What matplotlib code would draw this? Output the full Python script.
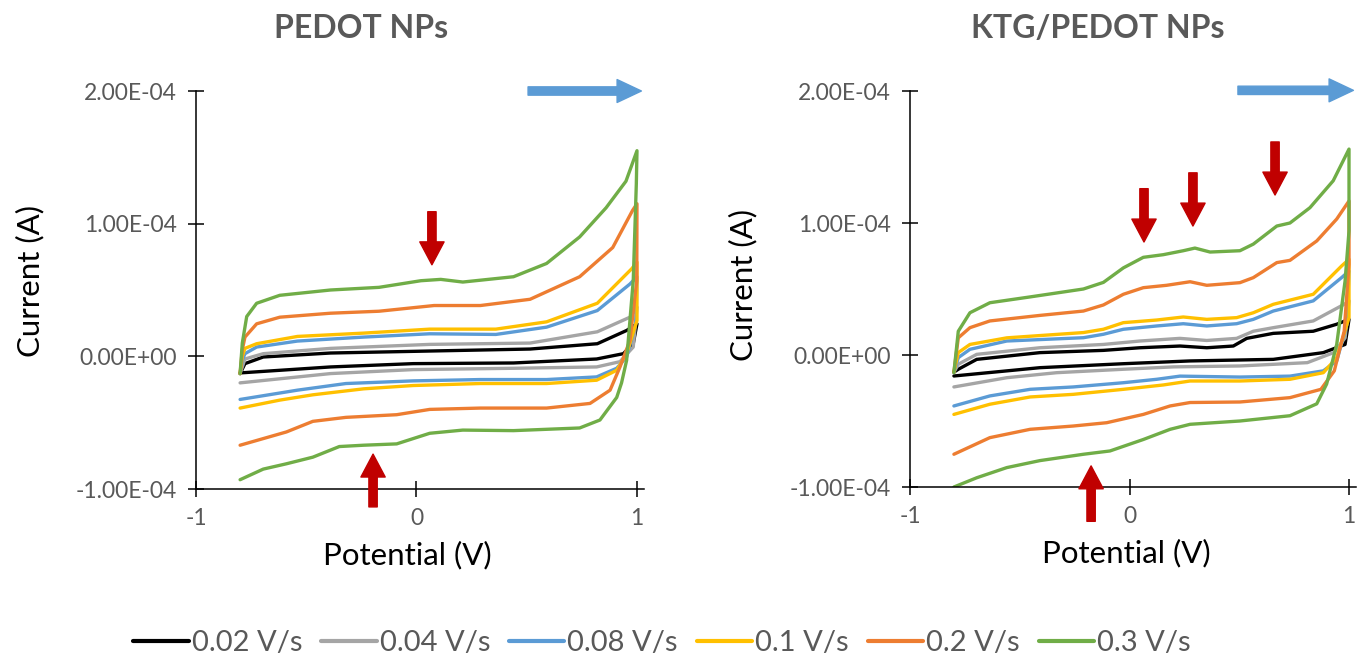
import matplotlib
matplotlib.use("Agg")
import matplotlib.pyplot as plt
from matplotlib.ticker import FormatStrFormatter

plt.rcParams['font.family'] = ['Lato', 'DejaVu Sans']

# scan rates and colours (Excel palette)
rates = ['0.02 V/s', '0.04 V/s', '0.08 V/s', '0.1 V/s', '0.2 V/s', '0.3 V/s']
colors = ['#000000', '#A5A5A5', '#5B9BD5', '#FFC000', '#ED7D31', '#70AD47']

# ---- PEDOT NPs : potential (V) and current (uA), forward then reverse sweep
p002_v = [-0.8, -0.778, -0.695, -0.39, 0.06, 0.515, 0.82, 0.953, 1.0,
          0.983, 0.938, 0.817, 0.44, -0.015, -0.39, -0.8]
p002_i = [-13, -5.5, -0.5, 2.5, 4, 5.5, 9.5, 19.5, 24.5,
          9.5, 2, -2, -5, -5.5, -8, -12.5]
p004_v = [-0.8, -0.778, -0.695, -0.39, 0.06, 0.515, 0.82, 0.968, 1.0,
          0.983, 0.923, 0.817, 0.44, -0.015, -0.39, -0.8]
p004_i = [-13, -2, 2, 6, 9, 10, 18.5, 29.5, 37,
          7, -4, -8, -9, -10, -13, -20]
p008_v = [-0.8, -0.79, -0.778, -0.725, -0.54, -0.24, 0.06, 0.36, 0.59, 0.82, 0.968, 1.0,
          0.995, 0.953, 0.908, 0.817, 0.59, 0.29, -0.015, -0.32, -0.54, -0.8]
p008_i = [-13, -3, 2, 7, 11.5, 14.5, 17, 16.5, 22, 34.5, 54.5, 60,
          25, -0.5, -9, -15.5, -17.5, -17.5, -18.5, -20.5, -25.5, -32.5]
p01_v = [-0.8, -0.79, -0.778, -0.725, -0.54, -0.24, 0.06, 0.36, 0.59, 0.82, 0.976, 1.0,
         1.0, 0.953, 0.908, 0.817, 0.59, 0.29, -0.015, -0.24, -0.47, -0.62, -0.8]
p01_i = [-13, 0, 6, 9.5, 15, 17.5, 20.5, 20.5, 26, 40, 66, 71,
         27, 2, -10.5, -18, -20.5, -20.5, -22, -24.5, -29, -33, -39]
p02_v = [-0.8, -0.79, -0.778, -0.725, -0.62, -0.39, -0.17, 0.08, 0.29, 0.515, 0.74, 0.89, 0.98, 1.0,
         0.999, 0.968, 0.923, 0.878, 0.787, 0.59, 0.29, 0.06, -0.09, -0.32, -0.47, -0.59, -0.8]
p02_i = [-13, 5, 14.5, 24.5, 29.5, 32.5, 34, 38.3, 38.3, 43, 60, 82, 110, 115,
         57, 12, -8, -25.5, -35.5, -39, -39, -40, -44, -46, -49, -57, -67]
p03_v = [-0.8, -0.79, -0.77, -0.725, -0.62, -0.39, -0.17, 0.02, 0.11, 0.21, 0.44, 0.59, 0.74, 0.86,
         0.95, 1.0, 0.997, 0.983, 0.968, 0.953, 0.93, 0.908, 0.832, 0.74, 0.44, 0.21, 0.06, -0.09,
         -0.24, -0.35, -0.47, -0.59, -0.695, -0.8]
p03_i = [-13, 10, 30, 40, 46, 50, 52, 57, 58, 56, 60, 70, 90, 112,
         132, 155, 130, 57, 27, -3, -20, -31, -48, -54, -56, -55.6, -58, -66,
         -67, -68, -76, -81, -85, -93]

# ---- KTG/PEDOT NPs
k002_v = [-0.8, -0.78, -0.696, -0.408, -0.119, 0.048, 0.23, 0.352, 0.473, 0.534, 0.655, 0.837,
          0.944, 1.0, 0.982, 0.883, 0.655, 0.276, -0.028, -0.408, -0.8]
k002_i = [-13, -10.8, -3.3, 1.8, 3.5, 5.5, 6.8, 5.5, 6.8, 12.6, 16.4, 18,
          23.3, 27, 8, 1.8, -3.3, -4.5, -6.6, -9.6, -15.9]
k004_v = [-0.8, -0.78, -0.696, -0.408, -0.119, 0.048, 0.23, 0.352, 0.488, 0.564, 0.655, 0.837,
          0.978, 1.0, 0.982, 0.933, 0.81, 0.503, 0.2, -0.028, -0.332, -0.559, -0.8]
k004_i = [-13, -7, 0.5, 5.5, 8, 10.6, 12.6, 11, 12.6, 18, 20.7, 25.8,
          38.4, 41, 13, 2, -5.8, -8.3, -9, -10.8, -13.4, -17.2, -24.2]
k008_v = [-0.8, -0.78, -0.727, -0.559, -0.21, -0.119, -0.028, 0.124, 0.245, 0.352, 0.488, 0.564,
          0.655, 0.837, 0.966, 1.0, 0.99, 0.944, 0.883, 0.731, 0.503, 0.23, 0.124, -0.028,
          -0.256, -0.453, -0.636, -0.8]
k008_i = [-13, -2, 4.3, 10.6, 13.1, 15.7, 19.5, 22, 23.7, 22, 23.7, 27,
          33.3, 41, 58.6, 63.6, 23, -4.5, -12, -16, -16.7, -16, -18.4, -21,
          -24.2, -26, -31, -38.6]
k01_v = [-0.8, -0.78, -0.727, -0.559, -0.21, -0.119, -0.028, 0.124, 0.245, 0.352, 0.488, 0.564,
         0.655, 0.837, 0.966, 1.0, 1.0, 0.944, 0.883, 0.731, 0.503, 0.276, 0.154, -0.028,
         -0.256, -0.453, -0.636, -0.8]
k01_i = [-13, 1.8, 8, 13, 17, 19.5, 24.5, 26.5, 28.8, 27, 28.3, 32,
         38.4, 46, 67.4, 72.5, 28.3, -2, -13.4, -18.4, -19.7, -19.7, -22.7, -26,
         -29.8, -31.8, -37.3, -45]
k02_v = [-0.8, -0.78, -0.727, -0.636, -0.408, -0.21, -0.119, -0.028, 0.063, 0.169, 0.276, 0.352,
         0.503, 0.564, 0.671, 0.731, 0.853, 0.944, 1.0, 1.0, 0.978, 0.933, 0.872, 0.731, 0.503,
         0.276, 0.185, 0.063, -0.104, -0.256, -0.453, -0.636, -0.8]
k02_i = [-13, 13, 20.7, 25.8, 30, 33.3, 37.9, 46, 51, 52.8, 55.5, 52.8,
         54.8, 58.6, 70, 71.7, 86.4, 103, 116.7, 68.7, 18, -12, -26, -32.3, -35.6,
         -36, -38.6, -45, -51.3, -53.8, -56.3, -62.6, -75.2]
k03_v = [-0.8, -0.78, -0.727, -0.636, -0.453, -0.21, -0.119, -0.028, 0.063, 0.154, 0.245, 0.298,
         0.367, 0.503, 0.564, 0.671, 0.731, 0.822, 0.928, 1.0, 1.0, 0.982, 0.944, 0.898, 0.853,
         0.731, 0.503, 0.276, 0.185, 0.063, -0.089, -0.21, -0.408, -0.559, -0.696, -0.8]
k03_i = [-13.4, 18, 32, 39.6, 44, 50, 55, 66, 74, 76, 79, 81,
         78, 79, 84, 97.7, 100, 111.6, 132, 156, 94, 56, 8, -22, -37,
         -46, -50, -52.5, -56.3, -64, -72.7, -75.2, -80, -85.3, -93, -100]

pedot_v = [p002_v, p004_v, p008_v, p01_v, p02_v, p03_v]
pedot_i = [p002_i, p004_i, p008_i, p01_i, p02_i, p03_i]
ktg_v = [k002_v, k004_v, k008_v, k01_v, k02_v, k03_v]
ktg_i = [k002_i, k004_i, k008_i, k01_i, k02_i, k03_i]

# arrows: (x, tail current, tip current) in uA
pedot_red = [(0.07, 109, 69), (-0.197, -113.5, -73.7)]
ktg_red = [(0.066, 126, 85.6), (0.289, 138, 97.7), (0.663, 161.4, 121.2), (-0.175, -126, -84)]
pedot_blue = (0.506, 1.02, 200)
ktg_blue = (0.494, 1.02, 200.5)

GRAY = '#595959'
RED = '#C00000'
BLUE = '#5B9BD5'

fig = plt.figure(figsize=(13.65, 6.61), dpi=100)
ax1 = fig.add_axes([196 / 1365, 1 - 489 / 661, 447.6 / 1365, 398 / 661])
ax2 = fig.add_axes([910 / 1365, 1 - 487 / 661, 445.6 / 1365, 396 / 661])


def draw_panel(ax, vs, cs, reds, blue):
    for v, c, col, lab in zip(vs, cs, colors, rates):
        ax.plot(v, [x * 1e-6 for x in c], color=col, lw=2.4, label=lab,
                solid_joinstyle='round', solid_capstyle='round')
    ax.set_xlim(-1, 1.03)
    ax.set_ylim(-1e-4, 2e-4)
    ax.set_xticks([-1, 0, 1])
    ax.set_yticks([-1e-4, 0, 1e-4, 2e-4])
    ax.yaxis.set_major_formatter(FormatStrFormatter('%.2E'))
    ax.xaxis.set_major_formatter(FormatStrFormatter('%d'))
    for s in ['top', 'right']:
        ax.spines[s].set_visible(False)
    for s in ['left', 'bottom']:
        ax.spines[s].set_linewidth(1.1)
    ax.tick_params(direction='inout', length=12, width=1.1, pad=8,
                   labelsize=16.5, labelcolor=GRAY)
    ax.patch.set_alpha(0)
    for x, y0, y1 in reds:
        ax.annotate('', xy=(x, y1 * 1e-6), xytext=(x, y0 * 1e-6),
                    arrowprops=dict(arrowstyle='simple,head_length=1.65,head_width=1.75,tail_width=0.6',
                                    color=RED, mutation_scale=10, shrinkA=0, shrinkB=0),
                    annotation_clip=False)
    x0, x1, y = blue
    ax.annotate('', xy=(x1, y * 1e-6), xytext=(x0, y * 1e-6),
                arrowprops=dict(arrowstyle='simple,head_length=1.75,head_width=1.65,tail_width=0.6',
                                color=BLUE, mutation_scale=10, shrinkA=0, shrinkB=0),
                annotation_clip=False)


draw_panel(ax1, pedot_v, pedot_i, pedot_red, pedot_blue)
draw_panel(ax2, ktg_v, ktg_i, ktg_red, ktg_blue)

ax1.text(0.471, -0.166, 'Potential (V)', transform=ax1.transAxes, ha='center', va='center', fontsize=22.5)
ax2.text(0.485, -0.167, 'Potential (V)', transform=ax2.transAxes, ha='center', va='center', fontsize=22.5)
ax1.text(-0.371, 0.523, 'Current (A)', transform=ax1.transAxes, ha='center', va='center',
         fontsize=22.5, rotation=90)
ax2.text(-0.375, 0.51, 'Current (A)', transform=ax2.transAxes, ha='center', va='center',
         fontsize=22.5, rotation=90)

fig.text(361 / 1365, 1 - 28 / 661, 'PEDOT NPs', ha='center', va='center',
         fontsize=23, fontweight='bold', color=GRAY)
fig.text(1098 / 1365, 1 - 28 / 661, 'KTG/PEDOT NPs', ha='center', va='center',
         fontsize=23, fontweight='bold', color=GRAY)

handles, labels = ax1.get_legend_handles_labels()
leg = fig.legend(handles, labels, loc='center', bbox_to_anchor=(662 / 1365, 1 - 643 / 661),
                 ncol=6, frameon=False, fontsize=21, handlelength=1.9, handletextpad=0.1,
                 columnspacing=0.65, labelcolor=GRAY)
for line in leg.get_lines():
    line.set_linewidth(3)

fig.savefig('out.png', dpi=100)
